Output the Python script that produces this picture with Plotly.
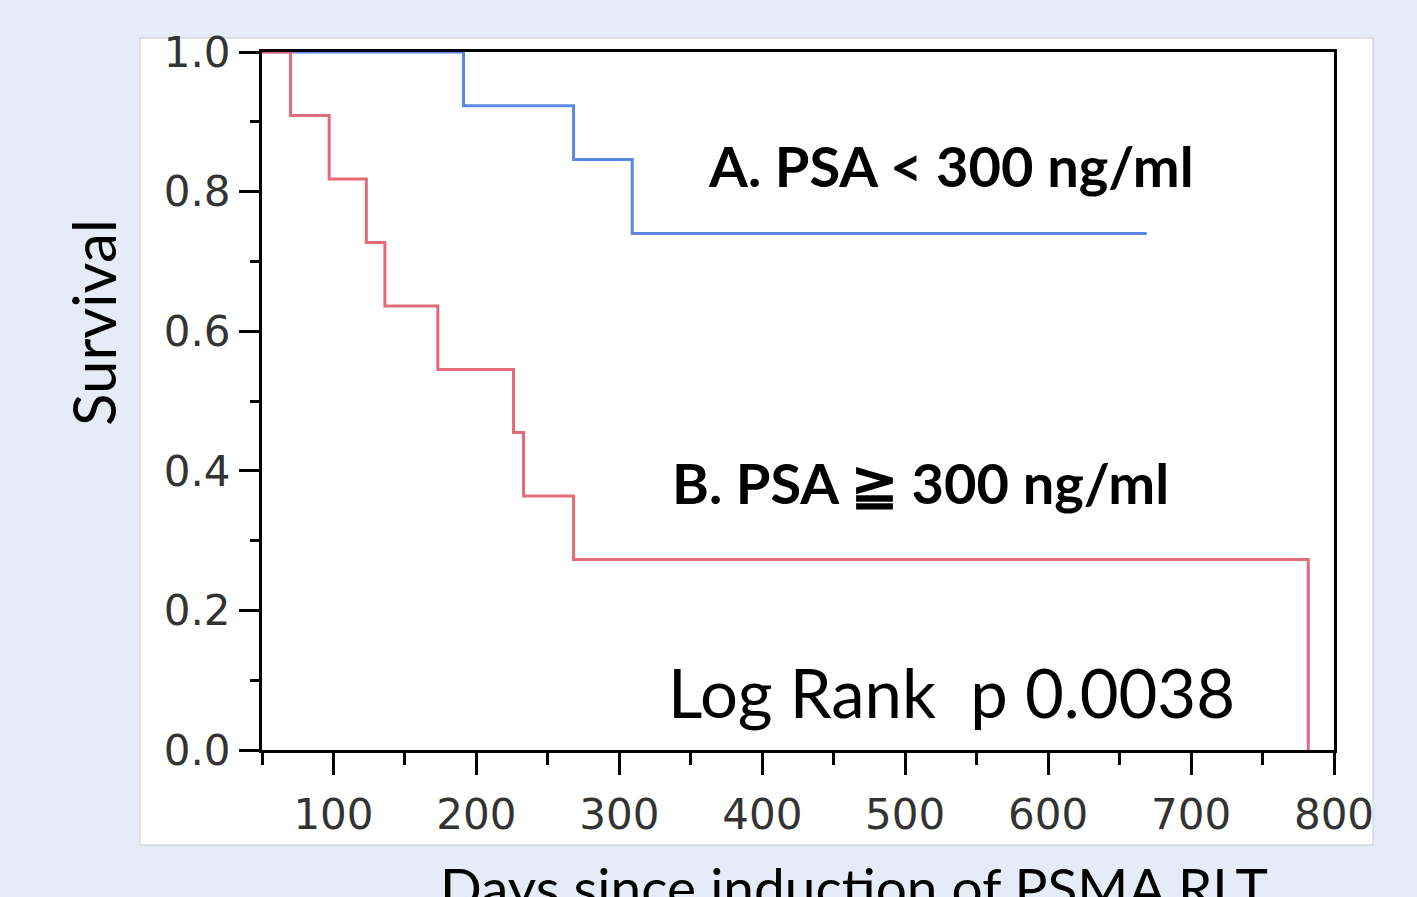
import plotly.graph_objects as go

# ---- data ----
days_a = [0, 191, 268, 309, 669]
surv_a = [1.0, 0.923, 0.846, 0.740, 0.740]

days_b = [0, 70, 97, 123, 136, 173, 226, 233, 268, 782]
surv_b = [1.0, 0.909, 0.818, 0.727, 0.636, 0.545, 0.455, 0.364, 0.273, 0.0]

label_a = "A. PSA < 300 ng/ml"
label_b = "B. PSA ≧ 300 ng/ml"
stat_text = "Log Rank  p 0.0038"
x_title = "Days since induction of PSMA RLT"
y_title = "Survival"

W, H = 1417, 897
L, R, T, B = 262, 1334, 52, 750  # plot area in pixels


def px_x(p):
    return (p - L) / (R - L)


def px_y(p):
    return (B - p) / (B - T)


BLUE = "#5B86E3"
RED = "#E26A79"
TXT_FONT = "Lato"

fig = go.Figure()
fig.add_trace(go.Scatter(x=days_a, y=surv_a, mode="lines", line_shape="hv",
                         line=dict(color=BLUE, width=3), showlegend=False))
fig.add_trace(go.Scatter(x=days_b, y=surv_b, mode="lines", line_shape="hv",
                         line=dict(color=RED, width=3), showlegend=False))

# white panel behind plot
fig.add_shape(type="rect", xref="paper", yref="paper",
              x0=px_x(140), x1=px_x(1373), y0=px_y(845), y1=px_y(38),
              fillcolor="white", line=dict(color="#C8CCD4", width=1), layer="below")


def note(text, cx, cy, size, angle=0, yanchor="middle"):
    fig.add_annotation(x=px_x(cx), y=px_y(cy), xref="paper", yref="paper",
                       text=text, showarrow=False, textangle=angle,
                       xanchor="center", yanchor=yanchor,
                       font=dict(family=TXT_FONT, size=size, color="black"))


note("<b>" + label_a + "</b>", 951, 165, 56)
note("<b>" + label_b + "</b>", 920, 482, 56)
note(stat_text, 951, 692, 67)
note(y_title, 93, 323, 60, angle=-90)
note(x_title, 854, 852, 55, yanchor="top")

axis_common = dict(showline=True, linecolor="black", linewidth=3, mirror=True,
                   showgrid=False, zeroline=False, ticks="outside",
                   tickcolor="black", tickwidth=3,
                   tickfont=dict(family="DejaVu Sans", size=42, color="#333333"))

fig.update_xaxes(range=[50, 800], tickmode="linear", tick0=0, dtick=100,
                 ticklen=22, ticklabelstandoff=4,
                 minor=dict(ticks="outside", dtick=50, tick0=0, ticklen=12,
                            tickcolor="black", tickwidth=3, showgrid=False),
                 **axis_common)
fig.update_yaxes(range=[0, 1], tickmode="linear", tick0=0, dtick=0.2,
                 tickformat=".1f", ticklen=20,
                 minor=dict(ticks="outside", dtick=0.1, tick0=0, ticklen=9,
                            tickcolor="black", tickwidth=3, showgrid=False),
                 **axis_common)

fig.update_layout(width=W, height=H,
                  margin=dict(l=L, r=W - R, t=T, b=H - B, pad=0),
                  paper_bgcolor="#E6ECF7", plot_bgcolor="white",
                  showlegend=False)

fig.write_html("out.html", config={"displayModeBar": False},
               post_script="document.body.style.margin='0';"
                           "document.body.style.overflow='hidden';")
